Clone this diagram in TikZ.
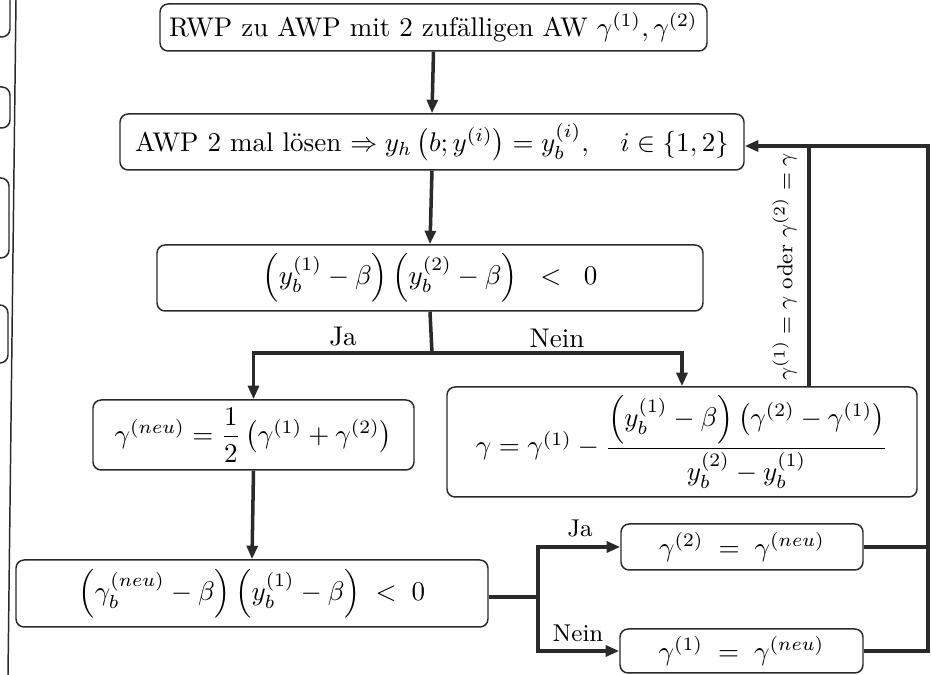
\documentclass[tikz,border=0pt]{standalone}
\usepackage{amsmath}
\usetikzlibrary{arrows.meta}

\definecolor{ink}{HTML}{2A2A2A}

\tikzset{
  box/.style={draw=ink, line width=0.55pt, rounded corners=3pt, inner sep=0pt,
              align=center, text=black},
  flow/.style={draw=ink, line width=1.3pt},
  tip/.style={-{Triangle[length=5pt, width=4pt]}},
  lbl/.style={inner sep=0pt, text=black},
  stub/.style={draw=ink, line width=0.55pt, rounded corners=3pt},
}

\begin{document}
\begin{tikzpicture}[x=0.37pt, y=-0.37pt]
  \useasboundingbox (0,0) rectangle (932,675);

  % boxes of the neighbouring column, cut off at the margin
  \draw[stub] (-30,-10) rectangle (10,37);
  \draw[stub] (-30,87) rectangle (10,128);
  \draw[stub] (-30,178) rectangle (9,258);
  \draw[stub] (-30,305) rectangle (8,363);
  \draw[ink, line width=0.55pt] (16,0) -- (8,675);

  % process boxes
  \node[box, minimum width=547*0.37pt, minimum height=47*0.37pt] (start) at (433.5,27.5)
    {RWP zu AWP mit 2 zuf\"alligen AW $\gamma^{(1)},\gamma^{(2)}$};
  \node[box, minimum width=624*0.37pt, minimum height=56*0.37pt] (solve) at (432,142)
    {AWP 2 mal l\"osen $\Rightarrow y_h\left(b;y^{(i)}\right)=y_b^{(i)},\quad i\in\{1,2\}$};
  \node[box, minimum width=546*0.37pt, minimum height=66*0.37pt] (test1) at (430,278)
    {$\left(y_b^{(1)}-\beta\right)\left(y_b^{(2)}-\beta\right)\;\;<\;\;0$};
  \node[box, minimum width=321*0.37pt, minimum height=70*0.37pt] (mid) at (253.5,435)
    {$\gamma^{(neu)}=\dfrac{1}{2}\left(\gamma^{(1)}+\gamma^{(2)}\right)$};
  \node[box, minimum width=470*0.37pt, minimum height=110*0.37pt] (secant) at (682,442)
    {$\gamma=\gamma^{(1)}-\dfrac{\left(y_b^{(1)}-\beta\right)\left(\gamma^{(2)}-\gamma^{(1)}\right)}{y_b^{(2)}-y_b^{(1)}}$};
  \node[box, minimum width=472*0.37pt, minimum height=67*0.37pt] (test2) at (252,593.5)
    {$\left(\gamma_b^{(neu)}-\beta\right)\left(y_b^{(1)}-\beta\right)\;<\;0$};
  \node[box, minimum width=242*0.37pt, minimum height=46*0.37pt] (set2) at (742,547)
    {$\gamma^{(2)}\;=\;\gamma^{(neu)}$};
  \node[box, minimum width=243*0.37pt, minimum height=44*0.37pt] (set1) at (741.5,651)
    {$\gamma^{(1)}\;=\;\gamma^{(neu)}$};

  % junction points
  \coordinate (split1) at (432,353);
  \coordinate (split2) at (538,597);
  \coordinate (ret) at (928,146);
  \coordinate (join) at (809,146);

  % main flow
  \draw[flow, tip] (start.south) -- (solve.north);
  \draw[flow, tip] (solve.south) -- (test1.north);
  \draw[flow] (test1.south) -- (split1);
  \draw[flow, tip] (split1) -| (mid.north);
  \draw[flow, tip] (split1) -| (secant.north);
  \draw[flow, tip] (mid.south) -- (test2.north);
  \draw[flow] (test2.east |- split2) -- (split2);
  \draw[flow, tip] (split2) |- (set2.west);
  \draw[flow, tip] (split2) |- (set1.west);

  % return paths
  \draw[flow] (set2.east) -- (ret |- set2.east);
  \draw[flow, tip] (set1.east) -| (ret) -- (solve.east |- ret);
  \draw[flow] (secant.north -| join) -- (join);

  % labels
  \node[lbl] (ja1) at (343,337) {Ja};
  \node[lbl] (nein1) at (557,338) {Nein};
  \node[lbl, font=\small] (ja2) at (580,528) {Ja};
  \node[lbl, font=\small] (nein2) at (578,633) {Nein};
  \node[lbl, rotate=90, anchor=south, font=\footnotesize] (stopc) at (797,267)
    {$\gamma^{(1)}=\gamma$ oder $\gamma^{(2)}=\gamma$};
\end{tikzpicture}
\end{document}
